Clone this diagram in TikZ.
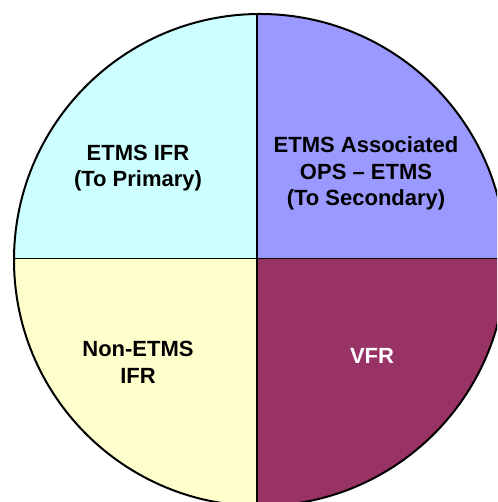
\documentclass[tikz,border=0pt]{standalone}
\usepackage{fontspec}
\setmainfont{Liberation Sans}
\definecolor{paleCyan}{HTML}{CCFFFF}
\definecolor{periwinkle}{HTML}{9999FF}
\definecolor{paleYellow}{HTML}{FFFFCC}
\definecolor{plum}{HTML}{993366}
\tikzset{
  lbl/.style={anchor=base, inner sep=0pt, font=\fontsize{22}{26}\selectfont\bfseries},
  divider/.style={line width=1.6pt, draw=black},
  rim/.style={line width=2pt, draw=black}
}
\begin{document}
\begin{tikzpicture}[x=1pt,y=1pt]
  \useasboundingbox (0,0) rectangle (497,502);
  \clip (0,0) rectangle (497,502);
  % pie centre and the point where the two dividers cross
  \coordinate (o) at (260,242);
  \coordinate (k) at (257,243.5);
  \def\R{246}
  \begin{scope}
    \clip (o) circle[radius=\R];
    % four quadrants of the pie
    \fill[paleCyan]   (k) rectangle (0,502);
    \fill[periwinkle] (k) rectangle (520,502);
    \fill[paleYellow] (k) rectangle (0,-20);
    \fill[plum]       (k) rectangle (520,-20);
    % dividing lines
    \draw[divider] (k -| 0,0) -- (k -| 520,0);
    \draw[divider] (k |- 0,-20) -- (k |- 0,520);
  \end{scope}
  % outer rim
  \draw[rim] (o) circle[radius=\R];
  % labels
  \node[lbl] (tl1) at (138,341) {ETMS IFR};
  \node[lbl] (tl2) at (138,315) {(To Primary)};
  \node[lbl] (tr1) at (366,349.5) {ETMS Associated};
  \node[lbl] (tr2) at (366,322.5) {OPS – ETMS};
  \node[lbl] (tr3) at (366,296) {(To Secondary)};
  \node[lbl] (bl1) at (138,145) {Non-ETMS};
  \node[lbl] (bl2) at (138,118.5) {IFR};
  \node[lbl, text=white] (br1) at (372,138.7) {VFR};
\end{tikzpicture}
\end{document}
